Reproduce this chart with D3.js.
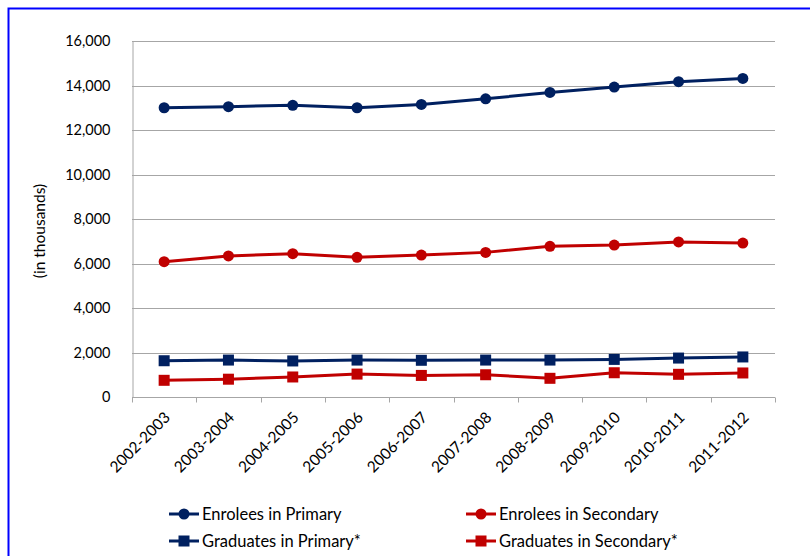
<!DOCTYPE html>
<html>
<head>
<meta charset="utf-8">
<script src="https://cdn.jsdelivr.net/npm/d3@7"></script>
<style>
  body { margin: 0; background: #fff; }
  svg { display: block; font-family: Lato, "Open Sans", sans-serif; }
</style>
</head>
<body>
<div id="chart"></div>
<script>
const years = ['2002-2003', '2003-2004', '2004-2005', '2005-2006', '2006-2007',
  '2007-2008', '2008-2009', '2009-2010', '2010-2011', '2011-2012'];

const enroleesPrimary = [13000, 13050, 13110, 13000, 13150, 13400, 13690, 13930, 14170, 14320];
const enroleesSecondary = [6080, 6340, 6440, 6280, 6380, 6500, 6770, 6830, 6970, 6920];
const graduatesPrimary = [1630, 1660, 1620, 1660, 1650, 1660, 1660, 1690, 1750, 1800];
const graduatesSecondary = [750, 800, 900, 1030, 970, 1000, 840, 1090, 1020, 1080];

const yTicks = [0, 2000, 4000, 6000, 8000, 10000, 12000, 14000, 16000];

const series = [
  { name: 'Enrolees in Primary', values: enroleesPrimary, color: '#002060', shape: 'circle' },
  { name: 'Enrolees in Secondary', values: enroleesSecondary, color: '#C00000', shape: 'circle' },
  { name: 'Graduates in Primary*', values: graduatesPrimary, color: '#002060', shape: 'square' },
  { name: 'Graduates in Secondary*', values: graduatesSecondary, color: '#C00000', shape: 'square' }
];

const width = 810,
  height = 556,
  margin = { top: 41, right: 35, bottom: 159, left: 132 };

const svg = d3.select('#chart').
append('svg').
attr('width', width).
attr('height', height);

// blue frame, runs off the right and bottom edges
svg.append('rect').
attr('x', 8.5).
attr('y', 8.5).
attr('width', width + 20).
attr('height', height + 20).
attr('fill', 'none').
attr('stroke', '#0000ff').
attr('stroke-width', 2);

const x = d3.scaleBand().
domain(years).
range([margin.left, width - margin.right]);

const y = d3.scaleLinear().
domain([0, 16000]).
range([height - margin.bottom, margin.top]);

// gridlines
svg.append('g').
selectAll('line').
data(yTicks).
enter().
append('line').
attr('x1', margin.left).
attr('x2', width - margin.right).
attr('y1', d => Math.round(y(d)) + 0.5).
attr('y2', d => Math.round(y(d)) + 0.5).
attr('stroke', '#a6a6a6').
attr('stroke-width', 1);

// y axis
const yAxis = svg.append('g').
attr('transform', `translate(${margin.left + 0.5},0)`).
call(d3.axisLeft(y).
tickValues(yTicks).
tickSize(0).
tickPadding(22).
tickFormat(d3.format(',')));
yAxis.select('.domain').attr('stroke', '#a6a6a6');
yAxis.selectAll('text').
attr('font-size', '14.5px').
attr('fill', '#000').
attr('font-family', 'Lato, sans-serif');

// y title
svg.append('text').
attr('transform', `translate(45,${(margin.top + height - margin.bottom) / 2 + 12}) rotate(-90)`).
attr('text-anchor', 'middle').
attr('font-size', '15.5px').
text('(in thousands)');

// x axis, ticks between categories
const xAxisG = svg.append('g').
attr('transform', `translate(0,${Math.round(y(0)) + 0.5})`);
xAxisG.append('line').
attr('x1', margin.left).
attr('x2', width - margin.right).
attr('stroke', '#a6a6a6');
xAxisG.selectAll('.sep').
data(d3.range(years.length + 1)).
enter().
append('line').
attr('class', 'sep').
attr('x1', i => Math.round(margin.left + i * x.step()) + 0.5).
attr('x2', i => Math.round(margin.left + i * x.step()) + 0.5).
attr('y1', 0).
attr('y2', 5).
attr('stroke', '#a6a6a6');

xAxisG.selectAll('.lbl').
data(years).
enter().
append('text').
attr('class', 'lbl').
attr('text-anchor', 'end').
attr('font-size', '15.5px').
attr('transform', d => `translate(${x(d) + x.bandwidth() / 2 + 7},${21}) rotate(-45)`).
text(d => d);

const cx = d => x(d) + x.bandwidth() / 2;

const line = d3.line().
x((d, i) => cx(years[i])).
y(d => y(d));

const drawMarker = (g, shape, color, px, py) => {
  if (shape === 'circle') {
    g.append('circle').
    attr('cx', px).
    attr('cy', py).
    attr('r', 5.5).
    attr('fill', color);
  } else {
    g.append('rect').
    attr('x', px - 5.5).
    attr('y', py - 5.5).
    attr('width', 11).
    attr('height', 11).
    attr('fill', color);
  }
};

series.forEach(s => {
  const g = svg.append('g');
  g.append('path').
  datum(s.values).
  attr('d', line).
  attr('fill', 'none').
  attr('stroke', s.color).
  attr('stroke-width', 3).
  attr('stroke-linejoin', 'round');
  s.values.forEach((v, i) => drawMarker(g, s.shape, s.color, cx(years[i]), y(v)));
});

// legend
const legendCols = [169, 466],
  legendRows = [514, 541];

series.forEach((s, i) => {
  const lx = legendCols[i % 2],
  ly = legendRows[Math.floor(i / 2)];
  const g = svg.append('g');
  g.append('line').
  attr('x1', lx).
  attr('x2', lx + 30).
  attr('y1', ly).
  attr('y2', ly).
  attr('stroke', s.color).
  attr('stroke-width', 3);
  drawMarker(g, s.shape, s.color, lx + 15, ly);
  g.append('text').
  attr('x', lx + 33).
  attr('y', ly + 5.5).
  attr('font-size', '16.5px').
  text(s.name);
});
</script>
</body>
</html>
